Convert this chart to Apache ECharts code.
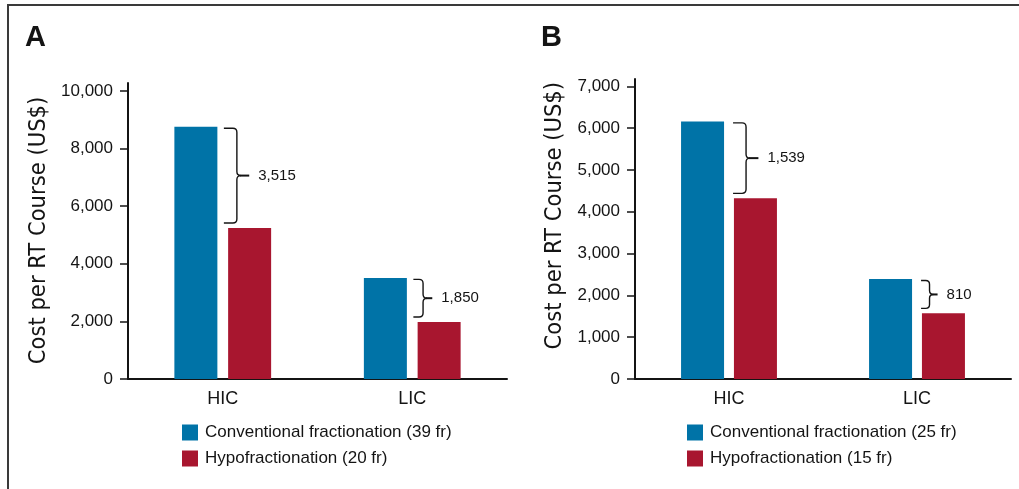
<!DOCTYPE html>
<html>
<head>
<meta charset="utf-8">
<script src="https://cdn.jsdelivr.net/npm/echarts@6/dist/echarts.min.js"></script>
<style>
  html, body { margin: 0; padding: 0; background: #fff; }
  #chart { width: 1019px; height: 489px; }
</style>
</head>
<body>
<div id="chart"></div>
<script>
// ---- data ----
const categories = ['HIC', 'LIC'];

// Panel A: cost per course, conventional (39 fr) vs hypofractionation (20 fr)
const seriesNamesA = ['Conventional fractionation (39 fr)', 'Hypofractionation (20 fr)'];
const conventionalA = [8760, 3510];
const hypoA = [5245, 1980];
const savingLabelsA = ['3,515', '1,850'];
const yTicksA = [0, 2000, 4000, 6000, 8000, 10000];

// Panel B: cost per course, conventional (25 fr) vs hypofractionation (15 fr)
const seriesNamesB = ['Conventional fractionation (25 fr)', 'Hypofractionation (15 fr)'];
const conventionalB = [6160, 2390];
const hypoB = [4320, 1570];
const savingLabelsB = ['1,539', '810'];
const yTicksB = [0, 1000, 2000, 3000, 4000, 5000, 6000, 7000];

const yTitle = 'Cost per RT Course (US$)';
const panelLetters = ['A', 'B'];

// ---- styles ----
const BLUE = '#0073a7';
const RED = '#a8162f';
const INK = '#141414';
const FONT = "'Liberation Sans', Arial, Helvetica, sans-serif";
const NARROW = "'Liberation Sans Narrow', 'DejaVu Sans Condensed', 'Liberation Sans', sans-serif";
const BAR_W = 43;

const chart = echarts.init(document.getElementById('chart'), null, { renderer: 'canvas' });

function fmt(v) { return v.toLocaleString('en-US'); }

function yAxisDef(gridIndex, max, ticks) {
  return {
    type: 'value', gridIndex, min: 0, max,
    splitLine: { show: false },
    axisLine: { show: true, lineStyle: { color: INK, width: 2 } },
    axisTick: { show: true, length: 8, customValues: ticks, lineStyle: { color: INK, width: 1.5 } },
    axisLabel: { customValues: ticks, margin: 15, color: INK, fontSize: 17, fontFamily: FONT, formatter: fmt }
  };
}

function xAxisDef(gridIndex) {
  return {
    type: 'category', gridIndex, data: categories,
    axisLine: { show: true, lineStyle: { color: INK, width: 2 } },
    axisTick: { show: false },
    axisLabel: { margin: 11, color: INK, fontSize: 18, fontFamily: FONT }
  };
}

// Curly brace spanning from the conventional bar top to the hypofractionation bar top
function braceRenderer(gapPx, xOffset) {
  return function (params, api) {
    const cat = api.value(0);
    const top = api.coord([cat, api.value(1)]);
    const bot = api.coord([cat, api.value(2)]);
    const label = savingText[params.seriesId][params.dataIndex];
    const catCenter = top[0];
    const x0 = catCenter - gapPx / 2 + xOffset;
    const yT = top[1] + 1.5;
    const yB = bot[1] - 5;
    const yM = (yT + yB) / 2;
    const h = yB - yT;
    const w = Math.min(13, 5 + h / 8);
    const x1 = x0 + w;
    const r = Math.min(4, w / 2.2);
    const tick = w * 0.95;
    const path =
      `M${x0},${yT} L${x1 - r},${yT} Q${x1},${yT} ${x1},${yT + r} ` +
      `L${x1},${yM - r} Q${x1},${yM} ${x1 + r},${yM} Q${x1},${yM} ${x1},${yM + r} ` +
      `L${x1},${yB - r} Q${x1},${yB} ${x1 - r},${yB} L${x0},${yB}`;
    return {
      type: 'group',
      children: [
        { type: 'path', shape: { pathData: path }, style: { fill: 'none', stroke: INK, lineWidth: 1.4 } },
        { type: 'line', shape: { x1: x1 + r - 1, y1: yM, x2: x1 + tick, y2: yM }, style: { stroke: INK, lineWidth: 2 } },
        { type: 'text', style: { x: x1 + tick + 9, y: yM, text: label, fill: INK, font: `15px ${FONT}`, verticalAlign: 'middle', align: 'left' } }
      ]
    };
  };
}

const savingText = { braceA: savingLabelsA, braceB: savingLabelsB };

function braceData(conv, hypo) {
  return categories.map((c, i) => [i, conv[i], hypo[i]]);
}

function legendDef(names, left) {
  return {
    data: names, orient: 'vertical', left, top: 419,
    icon: 'rect', itemWidth: 16, itemHeight: 16, itemGap: 9,
    selectedMode: false,
    textStyle: { color: INK, fontSize: 17, fontFamily: FONT, padding: [0, 0, 0, 2] }
  };
}

const option = {
  animation: false,
  backgroundColor: '#fff',
  grid: [
    { left: 128, top: 83, width: 379, height: 296 },
    { left: 635, top: 79, width: 376, height: 300 }
  ],
  xAxis: [xAxisDef(0), xAxisDef(1)],
  yAxis: [yAxisDef(0, 10278, yTicksA), yAxisDef(1, 7174, yTicksB)],
  legend: [legendDef(seriesNamesA, 177), legendDef(seriesNamesB, 682)],
  series: [
    { type: 'bar', name: seriesNamesA[0], xAxisIndex: 0, yAxisIndex: 0, data: conventionalA,
      barWidth: BAR_W, barGap: '25%', itemStyle: { color: BLUE } },
    { type: 'bar', name: seriesNamesA[1], xAxisIndex: 0, yAxisIndex: 0, data: hypoA,
      barWidth: BAR_W, barGap: '25%', itemStyle: { color: RED } },
    { type: 'bar', name: seriesNamesB[0], xAxisIndex: 1, yAxisIndex: 1, data: conventionalB,
      barWidth: BAR_W, barGap: '23%', itemStyle: { color: BLUE } },
    { type: 'bar', name: seriesNamesB[1], xAxisIndex: 1, yAxisIndex: 1, data: hypoB,
      barWidth: BAR_W, barGap: '23%', itemStyle: { color: RED } },
    { type: 'custom', id: 'braceA', xAxisIndex: 0, yAxisIndex: 0, clip: false, z: 5,
      encode: { x: 0, y: [1, 2] }, data: braceData(conventionalA, hypoA),
      renderItem: braceRenderer(BAR_W * 0.25, 6.5) },
    { type: 'custom', id: 'braceB', xAxisIndex: 1, yAxisIndex: 1, clip: false, z: 5,
      encode: { x: 0, y: [1, 2] }, data: braceData(conventionalB, hypoB),
      renderItem: braceRenderer(BAR_W * 0.23, 9) }
  ],
  graphic: [
    // frame lines
    { type: 'line', shape: { x1: 7, y1: 5, x2: 1019, y2: 5 }, style: { stroke: '#3a3a3a', lineWidth: 2 } },
    { type: 'line', shape: { x1: 8, y1: 4, x2: 8, y2: 489 }, style: { stroke: '#3a3a3a', lineWidth: 2 } },
    // panel letters
    { type: 'text', x: 25, y: 38, style: { text: panelLetters[0], fill: INK, font: `bold 29px ${FONT}`, verticalAlign: 'middle' } },
    { type: 'text', x: 541, y: 38, style: { text: panelLetters[1], fill: INK, font: `bold 29px ${FONT}`, verticalAlign: 'middle' } },
    // y-axis titles
    { type: 'text', x: 38.5, y: 230.5, rotation: Math.PI / 2,
      style: { text: yTitle, fill: INK, font: `23.5px ${NARROW}`, align: 'center', verticalAlign: 'middle' } },
    { type: 'text', x: 555, y: 215.7, rotation: Math.PI / 2,
      style: { text: yTitle, fill: INK, font: `23.5px ${NARROW}`, align: 'center', verticalAlign: 'middle' } }
  ]
};

chart.setOption(option);
</script>
</body>
</html>
